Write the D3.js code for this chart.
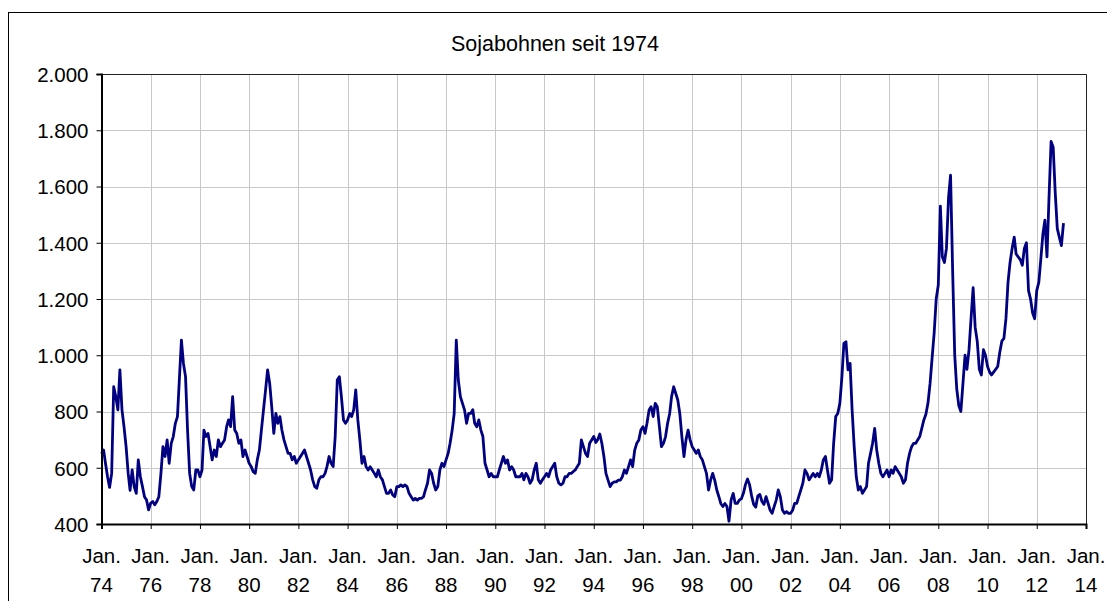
<!DOCTYPE html>
<html>
<head>
<meta charset="utf-8">
<script src="https://cdn.jsdelivr.net/npm/d3@7"></script>
<style>
  body { margin: 0; background: #fff; }
  svg { display: block; font-family: "Liberation Sans", Arial, sans-serif; }
</style>
</head>
<body>
<svg id="chart" width="1107" height="601"></svg>
<script>
// Data: Sojabohnen, Monatswerte ab Jan. 1974
const title = "Sojabohnen seit 1974";
const startYear = 1974;
const prices = [
  650, 663, 616, 568, 530, 580, 888, 853, 806, 948, 806, 746,      // 1974
  675, 580, 520, 592, 533, 509, 628, 568, 533, 497, 485, 450,      // 1975
  474, 480, 468, 480, 497, 580, 675, 640, 699, 616, 687, 711,      // 1976
  758, 782, 912, 1054, 971, 924, 734, 580, 533, 521, 592, 592,     // 1977
  568, 592, 734, 711, 722, 675, 628, 663, 640, 699, 675, 687,      // 1978
  699, 746, 770, 746, 853, 734, 722, 687, 699, 640, 663, 640,      // 1979
  616, 604, 586, 580, 628, 663, 734, 806, 877, 948, 900, 817,      // 1980
  722, 793, 758, 782, 734, 699, 675, 651, 651, 628, 640, 616,      // 1981
  628, 640, 651, 663, 640, 616, 592, 557, 533, 527, 557, 568,      // 1982
  568, 580, 604, 640, 616, 604, 711, 912, 924, 853, 770, 758,      // 1983
  770, 793, 782, 806, 877, 770, 699, 616, 640, 604, 592, 604,      // 1984
  592, 580, 568, 592, 568, 557, 533, 509, 509, 521, 503, 497,      // 1985
  533, 533, 539, 533, 539, 533, 509, 497, 485, 491, 485, 491,      // 1986
  491, 497, 521, 545, 592, 580, 545, 521, 533, 592, 616, 604,      // 1987
  628, 651, 687, 734, 793, 1054, 912, 853, 829, 806, 758, 793,     // 1988
  793, 806, 758, 746, 770, 734, 711, 616, 592, 568, 580, 568,      // 1989
  568, 568, 592, 616, 640, 616, 628, 592, 604, 592, 568, 568,      // 1990
  568, 580, 557, 580, 568, 545, 557, 592, 616, 557, 545, 557,      // 1991
  568, 580, 568, 592, 604, 616, 568, 545, 539, 545, 568, 568,      // 1992
  580, 580, 586, 592, 604, 616, 699, 675, 651, 640, 687, 699,      // 1993
  711, 690, 700, 720, 687, 640, 580, 556, 533, 545, 550, 550,      // 1994
  556, 556, 568, 592, 580, 604, 628, 604, 663, 687, 699, 734,      // 1995
  746, 722, 758, 805, 817, 782, 829, 817, 746, 675, 687, 710,      // 1996
  758, 793, 853, 888, 865, 841, 793, 710, 640, 699, 734, 699,      // 1997
  675, 663, 651, 663, 640, 628, 604, 580, 521, 556, 580, 556,      // 1998
  521, 497, 473, 462, 473, 462, 410, 485, 509, 473, 473, 485,      // 1999
  490, 510, 540, 560, 540, 500, 470, 460, 500, 505, 480, 470,      // 2000
  497, 473, 450, 438, 462, 485, 521, 497, 450, 438, 444, 438,      // 2001
  438, 450, 473, 473, 497, 521, 545, 592, 580, 557, 568, 580,      // 2002
  568, 580, 568, 592, 628, 640, 592, 545, 557, 687, 782, 793,      // 2003
  829, 924, 1042, 1048, 948, 971, 806, 675, 568, 521, 533, 509,    // 2004
  521, 533, 616, 651, 687, 740, 663, 616, 580, 568, 580, 592,      // 2005
  568, 592, 580, 604, 592, 580, 568, 545, 557, 616, 651, 675,      // 2006
  687, 687, 699, 711, 740, 770, 790, 830, 900, 990, 1080, 1200,    // 2007
  1250, 1530, 1350, 1330, 1380, 1560, 1640, 1300, 1000, 880, 820, 800, // 2008
  900, 1000, 950, 1020, 1130, 1240, 1100, 1050, 950, 930, 1020, 1000,  // 2009
  960, 940, 930, 940, 950, 960, 1010, 1050, 1060, 1130, 1260, 1330,    // 2010
  1380, 1420, 1360, 1350, 1340, 1320, 1380, 1400, 1230, 1200, 1150, 1130, // 2011
  1230, 1260, 1340, 1430, 1480, 1350, 1560, 1760, 1740, 1580, 1450, 1420, // 2012
  1390, 1470                                                        // 2013
];
const yTicks = [400, 600, 800, 1000, 1200, 1400, 1600, 1800, 2000];
const xTickYears = [1974, 1976, 1978, 1980, 1982, 1984, 1986, 1988, 1990, 1992,
  1994, 1996, 1998, 2000, 2002, 2004, 2006, 2008, 2010, 2012, 2014];

// Layout
const svg = d3.select("#chart");
const plot = { left: 101.5, right: 1086, top: 74, bottom: 524 };

// Deutsche Zahlenformatierung (2.000)
const de = d3.formatLocale({ decimal: ",", thousands: ".", grouping: [3], currency: ["", " €"] });
const fmt = de.format(",");

const x = d3.scaleTime()
  .domain([new Date(1974, 0, 1), new Date(2014, 0, 1)])
  .range([plot.left, plot.right]);
const y = d3.scaleLinear()
  .domain([400, 2000])
  .range([plot.bottom, plot.top]);

const data = prices.map((v, i) => ({ date: new Date(startYear, i, 1), value: v }));

// Aussenrahmen
svg.append("rect")
  .attr("x", 8.5).attr("y", 12.5)
  .attr("width", 1130).attr("height", 620)
  .attr("fill", "#fff").attr("stroke", "#000").attr("stroke-width", 1);

// Gitterlinien
svg.append("g").selectAll("line").data(yTicks).join("line")
  .attr("x1", plot.left).attr("x2", plot.right)
  .attr("y1", d => Math.round(y(d)) + 0.5).attr("y2", d => Math.round(y(d)) + 0.5)
  .attr("stroke", "#c8c8c8").attr("stroke-width", 1);

const xTicks = xTickYears.map(yr => new Date(yr, 0, 1));
svg.append("g").selectAll("line").data(xTicks).join("line")
  .attr("x1", d => Math.round(x(d)) + 0.5).attr("x2", d => Math.round(x(d)) + 0.5)
  .attr("y1", plot.top).attr("y2", plot.bottom)
  .attr("stroke", "#c8c8c8").attr("stroke-width", 1);

// Rahmen oben / rechts
svg.append("path")
  .attr("d", `M${plot.left},${plot.top + 0.5}H${plot.right + 0.5}V${plot.bottom}`)
  .attr("fill", "none").attr("stroke", "#222").attr("stroke-width", 1);

// Linie
const line = d3.line()
  .x(d => x(d.date))
  .y(d => y(d.value));

svg.append("path")
  .datum(data)
  .attr("d", line)
  .attr("fill", "none")
  .attr("stroke", "#000080")
  .attr("stroke-width", 2.8)
  .attr("stroke-linejoin", "round");

// Y-Achse
const yAxis = d3.axisLeft(y).tickValues(yTicks).tickFormat(fmt).tickSize(5).tickPadding(8);
const gy = svg.append("g")
  .attr("transform", `translate(${plot.left},0)`)
  .call(yAxis);
gy.select(".domain").attr("stroke", "#000").attr("stroke-width", 2);
gy.selectAll(".tick line").attr("stroke", "#000");
gy.selectAll(".tick text")
  .attr("font-size", 20.5)
  .attr("font-family", "Liberation Sans, Arial, sans-serif")
  .attr("fill", "#000")
  .attr("dy", "0.36em");

// X-Achse
const xAxis = d3.axisBottom(x).tickValues(xTicks).tickFormat("").tickSize(5);
const gx = svg.append("g")
  .attr("transform", `translate(0,${plot.bottom})`)
  .call(xAxis);
gx.select(".domain").attr("stroke", "#000").attr("stroke-width", 2);
gx.selectAll(".tick line").attr("stroke", "#000");

const xl = svg.append("g")
  .attr("font-size", 20.5)
  .attr("text-anchor", "middle")
  .attr("fill", "#000");
xl.selectAll("text.jan").data(xTicks).join("text")
  .attr("class", "jan")
  .attr("x", d => x(d))
  .attr("y", 563)
  .text("Jan.");
xl.selectAll("text.yr").data(xTicks).join("text")
  .attr("class", "yr")
  .attr("x", d => x(d))
  .attr("y", 592)
  .text(d => String(d.getFullYear()).slice(2));

// Titel
svg.append("text")
  .attr("x", 555)
  .attr("y", 51)
  .attr("text-anchor", "middle")
  .attr("font-size", 21.5)
  .attr("fill", "#000")
  .text(title);
</script>
</body>
</html>
